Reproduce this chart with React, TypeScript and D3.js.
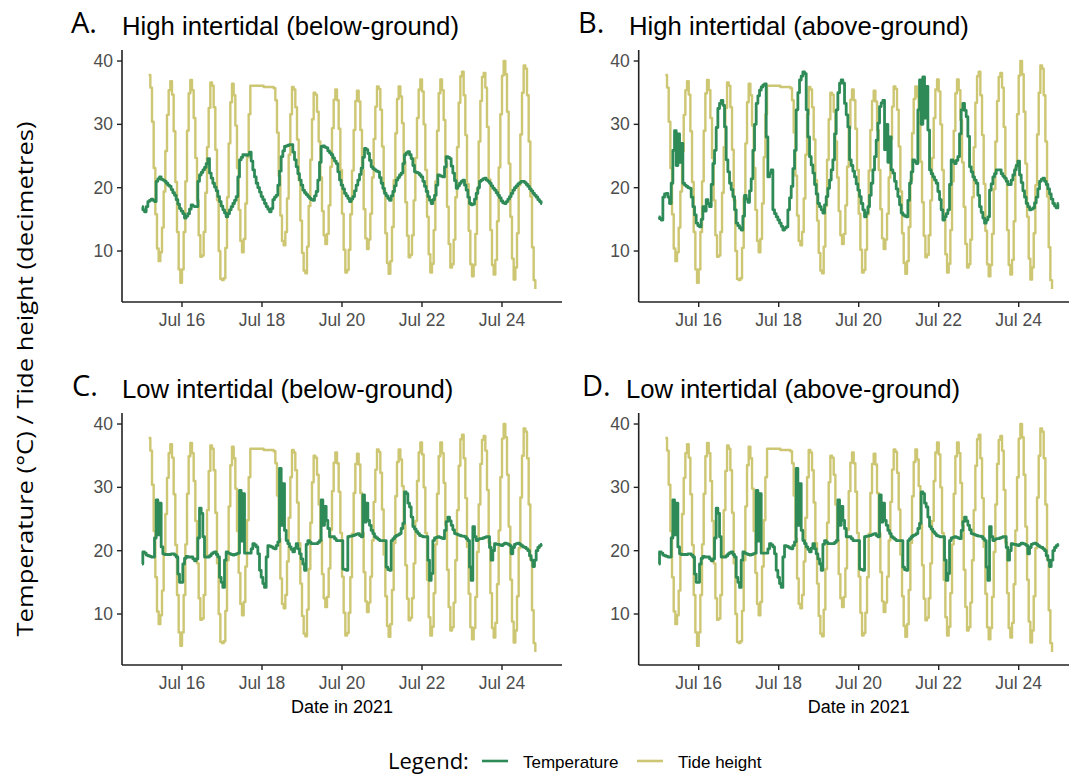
import React from "react";
import * as d3 from "d3";

const W = 1069;
const H = 776;
const FONT = "'Liberation Sans', Arial, Helvetica, sans-serif";
const FONT2 = "'Open Sans', 'Noto Sans', sans-serif";

const TEMP_COLOR = "#2E8B57";
const TIDE_COLOR = "#CDC673";

// hourly series starting Jul 15 2021 00:00
const seriesStart = new Date(2021, 6, 15, 0, 0, 0);
const tideStartHour = 4;

// Tide height (decimetres), hourly from Jul 15 04:00; null = no reading
const tideHeight: (number | null)[] = [
  37.8, 35.8, 30.4, 23.1, 15.8, 10.4, 8.4, 9.8, 13.7, 19.4, 25.8, 31.5, 35.4, 36.8,
  34.7, 28.9, 20.9, 13.0, 7.1, 5.0, 7.1, 13.0, 21.0, 29.0, 34.9, 37.0,
  35.4, 31.0, 24.7, 18.0, 12.5, 9.1, 9.3, 13.0, 19.2, 26.4, 32.6, 36.6,
  36.1, 32.7, 26.0, 18.0, 10.0, 5.6, 5.4, 5.7, 10.5, 18.5, 27.0, 33.5, 36.4,
  34.6, 29.8, 23.1, 16.5, 11.6, 9.8, 11.9, 17.5, 24.8, 31.6, 36.1,
  null, null, null, null, null, null, null, 35.9, null, null, null, null, null, 35.7,
  33.8, 28.7, 21.9, 15.6, 11.6, 10.9, 13.0, 18.3, 25.2, 31.6, 35.9,
  35.5, 32.7, 27.6, 21.2, 14.8, 9.7, 6.9, 6.5, 10.7, 17.1, 24.4, 30.8, 35.0,
  34.7, 32.0, 27.3, 21.6, 16.3, 12.5, 11.1, 12.7, 17.2, 23.3, 29.4, 33.9, 35.5,
  33.8, 29.3, 22.8, 15.9, 10.2, 6.6, 7.0, 10.2, 15.8, 22.7, 29.1, 33.7, 35.3,
  33.6, 29.1, 22.8, 16.6, 12.0, 10.3, 11.8, 15.9, 21.6, 27.7, 32.8, 36.0,
  35.6, 32.3, 26.5, 19.4, 12.8, 8.1, 6.4, 8.4, 13.8, 21.2, 28.6, 34.0, 36.0,
  34.4, 30.2, 24.1, 17.7, 12.4, 9.0, 9.4, 12.5, 18.0, 24.7, 31.0, 35.5, 37.1,
  35.2, 30.0, 22.8, 15.4, 9.5, 6.6, 8.0, 13.3, 21.0, 29.0, 34.9, 37.1,
  35.4, 30.7, 24.0, 17.0, 11.1, 7.4, 7.9, 11.8, 18.5, 26.4, 33.4, 37.6, 38.3,
  34.6, 28.3, 20.6, 13.2, 7.9, 6.0, 7.8, 12.7, 19.8, 27.3, 33.7, 37.5, 38.1,
  35.8, 29.6, 21.3, 13.3, 7.8, 6.3, 8.6, 14.7, 23.2, 31.6, 37.7, 40.0,
  37.9, 32.0, 23.8, 15.4, 8.8, 5.5, 7.4, 12.8, 20.4, 28.4, 35.0, 39.3,
  38.8, 34.6, 27.3, 18.6, 10.6, 5.4, 4.0,
];

// Temperature (°C), hourly from Jul 15 00:00 to Jul 25 00:00
const tempHighBelow: number[] = [
  17.0, 16.5, 16.2, 17.0, 17.8, 18.0, 18.2, 18.0, 17.8, 21.0, 21.4, 21.7,
  21.3, 21.2, 21.0, 20.7, 20.4, 20.2, 19.7, 19.2, 18.8, 18.1, 17.4, 16.7,
  16.3, 15.9, 15.2, 15.5, 15.9, 16.6, 17.3, 17.1, 17.0, 17.0, 21.0, 22.0,
  22.4, 22.8, 23.2, 23.8, 24.6, 22.3, 21.5, 20.7, 20.1, 19.5, 18.6, 17.8,
  17.1, 16.5, 16.0, 15.4, 15.9, 16.5, 17.0, 17.5, 18.0, 18.6, 21.7, 24.4,
  24.8, 25.2, 25.2, 25.1, 25.2, 25.6, 24.2, 22.8, 21.7, 20.7, 20.0, 19.3,
  18.6, 18.1, 17.5, 17.0, 16.6, 16.2, 16.7, 18.1, 18.5, 18.8, 20.4, 22.6,
  24.9, 25.8, 26.5, 26.6, 26.7, 26.8, 26.8, 25.6, 24.4, 23.3, 22.2, 21.2,
  20.4, 19.6, 19.2, 18.9, 18.6, 18.3, 18.1, 18.0, 18.7, 19.4, 21.2, 24.0,
  26.5, 26.6, 26.4, 26.3, 25.8, 25.5, 25.2, 24.7, 24.2, 23.8, 22.5, 21.2,
  20.4, 19.8, 19.1, 18.7, 18.3, 17.8, 18.2, 18.6, 19.5, 20.4, 21.2, 22.1,
  23.1, 24.8, 26.2, 26.0, 25.4, 24.3, 23.3, 23.0, 22.8, 22.6, 22.5, 21.6,
  20.7, 19.9, 19.1, 18.7, 18.3, 18.0, 18.7, 19.4, 20.3, 21.2, 21.6, 22.0,
  22.3, 23.8, 25.2, 25.5, 25.7, 25.2, 24.6, 23.5, 22.5, 22.4, 22.3, 22.0,
  21.7, 21.0, 20.2, 19.4, 18.6, 18.0, 17.5, 18.1, 18.8, 20.4, 22.0, 21.9,
  21.8, 21.7, 23.3, 24.9, 24.8, 24.6, 23.4, 22.3, 21.1, 19.9, 20.3, 20.7,
  21.0, 21.2, 20.4, 19.6, 18.5, 17.5, 17.3, 17.4, 18.2, 19.1, 20.0, 21.0,
  21.2, 21.4, 21.5, 21.2, 21.0, 20.7, 20.3, 19.9, 19.6, 19.2, 18.8, 18.4,
  17.9, 17.6, 17.5, 17.8, 18.2, 18.6, 19.1, 19.6, 20.0, 20.3, 20.6, 20.8,
  21.0, 21.0, 20.8, 20.5, 20.2, 19.8, 19.5, 19.1, 18.8, 18.5, 18.1, 17.8,
  17.5,
];

const tempHighAbove: number[] = [
  15.4, 15.1, 14.9, 18.5, 19.0, 19.1, 18.5, 17.5, 20.7, 25.9, 29.0, 23.5,
  28.5, 24.0, 27.0, 20.7, 20.4, 20.2, 20.0, 19.9, 18.5, 17.0, 15.7, 14.4,
  14.0, 13.8, 15.0, 17.0, 16.3, 18.1, 17.5, 17.0, 20.5, 23.8, 25.9, 29.5,
  32.5, 33.3, 33.8, 33.0, 29.6, 24.4, 22.5, 20.7, 19.7, 18.6, 16.5, 14.4,
  14.0, 13.6, 13.3, 15.5, 18.8, 18.2, 17.7, 19.5, 21.4, 25.9, 30.0, 33.3,
  34.5, 35.4, 35.9, 36.2, 36.4, 28.0, 21.7, 22.3, 22.8, 16.5, 15.9, 15.4,
  14.9, 14.4, 13.9, 13.3, 13.6, 13.8, 16.5, 18.4, 20.2, 23.0, 25.9, 32.3,
  35.0, 37.0, 37.6, 38.3, 38.0, 32.3, 28.0, 24.9, 23.6, 22.3, 20.5, 19.0,
  17.5, 17.0, 16.5, 16.0, 17.3, 18.6, 19.9, 21.2, 22.8, 24.4, 28.5, 32.3,
  35.0, 36.5, 37.0, 36.5, 33.3, 31.5, 29.6, 24.4, 23.5, 22.6, 21.7, 20.6,
  19.6, 18.6, 17.5, 16.5, 15.4, 16.0, 17.0, 18.8, 20.7, 22.8, 24.9, 27.5,
  30.2, 32.8, 33.4, 33.8, 26.0, 30.0, 24.0, 28.0, 22.8, 22.3, 21.0, 19.8,
  18.6, 17.3, 16.0, 15.7, 15.5, 15.4, 18.0, 20.7, 22.5, 24.4, 24.1, 23.8,
  32.3, 37.0, 30.0, 37.5, 31.0, 36.0, 29.1, 22.8, 22.2, 21.7, 21.2, 20.7,
  19.4, 18.1, 16.5, 14.9, 15.4, 15.9, 16.5, 20.5, 24.4, 24.1, 23.8, 24.3,
  24.9, 28.5, 32.3, 33.3, 32.2, 31.2, 28.1, 23.3, 22.5, 21.7, 21.2, 20.7,
  18.8, 17.0, 16.1, 15.2, 14.4, 14.9, 15.4, 19.6, 20.6, 21.7, 22.2, 22.8,
  22.8, 22.8, 22.2, 21.8, 21.5, 21.0, 20.5, 20.5, 21.2, 22.0, 22.8, 23.5,
  24.2, 22.0, 20.8, 19.5, 18.5, 17.5, 17.0, 16.5, 16.6, 16.8, 17.6, 18.5,
  19.8, 21.0, 21.3, 21.5, 21.0, 20.5, 19.8, 19.0, 18.2, 17.5, 17.1, 16.8,
  17.5,
];

const tempLowBelow: number[] = [
  17.9, 19.8, 19.6, 19.3, 19.2, 19.1, 19.0, 19.0, 22.0, 28.0, 22.5, 27.5,
  20.6, 19.5, 19.4, 19.4, 19.4, 19.4, 19.5, 19.5, 19.3, 19.0, 16.3, 15.0,
  15.0, 17.9, 18.8, 19.1, 19.0, 19.0, 19.0, 18.7, 18.4, 18.7, 22.0, 26.7,
  25.9, 22.2, 19.0, 19.0, 19.0, 19.2, 19.5, 19.7, 19.8, 19.4, 19.0, 15.8,
  15.0, 14.2, 18.5, 19.8, 19.6, 19.5, 19.4, 19.3, 19.4, 19.5, 19.6, 29.5,
  21.5, 29.0, 19.6, 19.6, 19.6, 19.6, 20.3, 21.1, 20.9, 20.6, 19.5, 16.9,
  15.8, 14.8, 14.2, 19.0, 20.8, 20.7, 20.6, 20.4, 20.3, 20.8, 21.4, 33.0,
  24.0, 30.6, 23.2, 21.6, 21.1, 20.6, 20.2, 19.8, 20.4, 21.1, 20.3, 19.5,
  18.7, 17.9, 16.9, 21.0, 21.6, 21.3, 21.1, 21.1, 21.1, 21.1, 21.3, 21.6,
  28.0, 24.0, 27.0, 24.8, 23.5, 22.2, 22.2, 22.2, 21.9, 21.6, 21.6, 21.6,
  21.6, 17.1, 17.0, 16.9, 22.2, 22.3, 22.3, 22.4, 22.5, 22.6, 22.7, 22.4,
  22.2, 28.8, 24.5, 27.5, 24.8, 24.0, 23.2, 22.7, 22.2, 22.0, 21.8, 21.6,
  21.6, 21.6, 21.6, 17.4, 17.0, 16.9, 21.6, 21.9, 22.2, 22.4, 22.5, 22.7,
  23.5, 24.3, 29.3, 29.0, 27.5, 26.9, 25.3, 23.8, 23.4, 23.0, 22.7, 22.4,
  22.3, 22.2, 22.2, 22.2, 18.5, 15.3, 16.4, 21.6, 22.0, 22.1, 22.2, 22.1,
  22.0, 21.9, 23.2, 24.6, 25.3, 24.7, 24.0, 23.3, 22.7, 22.6, 22.5, 22.4,
  22.3, 22.3, 22.2, 21.9, 21.6, 17.4, 15.3, 23.8, 22.2, 21.6, 21.8, 21.9,
  21.9, 22.0, 22.1, 22.2, 22.2, 20.5, 18.5, 20.0, 21.1, 21.0, 21.0, 20.9,
  20.8, 21.0, 21.2, 21.1, 21.0, 20.8, 19.5, 20.5, 21.0, 21.1, 21.2, 21.0,
  20.8, 20.6, 20.5, 20.3, 20.0, 19.2, 18.5, 17.5, 18.5, 20.0, 20.5, 20.8,
  21.0,
];

// the low-intertidal above-ground logger reads the same as the below-ground one
const tempLowAbove: number[] = tempLowBelow.slice();

const panelLetters = ["A.", "B.", "C.", "D."];
const panelTitles = [
  "High intertidal (below-ground)",
  "High intertidal (above-ground)",
  "Low intertidal (below-ground)",
  "Low intertidal (above-ground)",
];
const xTickDates = [16, 18, 20, 22, 24].map((d) => new Date(2021, 6, d));
const yTicks = [10, 20, 30, 40];
const legendLabels = ["Temperature", "Tide height"];

const xDomain = [new Date(2021, 6, 14, 12), new Date(2021, 6, 25, 12)];
const yDomain = [1.95, 41.74];
const PW = 440;
const PH = 252;

const hourDate = (h: number) => d3.timeHour.offset(seriesStart, h);
const fmt = d3.timeFormat("%b %d");

type PanelProps = {
  idx: number;
  left: number;
  top: number;
  temps: number[];
  letterX: number;
  titleX: number;
  showXTitle: boolean;
};

function Panel({ idx, left, top, temps, letterX, titleX, showXTitle }: PanelProps) {
  const x = d3.scaleTime().domain(xDomain).range([left, left + PW]);
  const y = d3.scaleLinear().domain(yDomain).range([top + PH, top]);

  const tidePts = tideHeight
    .map((v, i) => ({ d: hourDate(tideStartHour + i), v }))
    .filter((p) => p.v != null) as { d: Date; v: number }[];
  const tidePath = d3
    .line<{ d: Date; v: number }>()
    .x((p) => x(p.d))
    .y((p) => y(p.v))
    .curve(d3.curveStepAfter)(tidePts);

  const tempPts = temps.map((v, i) => ({ d: hourDate(i), v }));
  const tempPath = d3
    .line<{ d: Date; v: number }>()
    .x((p) => x(p.d))
    .y((p) => y(p.v))
    .curve(d3.curveStep)(tempPts);

  const bottom = top + PH;
  const axisColor = "#222";
  const titleBase = top - 15;

  return (
    <g>
      <text x={letterX} y={titleBase - 2} fontFamily={FONT2} fontSize={29} fill="#000">
        {panelLetters[idx]}
      </text>
      <text x={titleX} y={titleBase} fontFamily={FONT} fontSize={25.7} fill="#000">
        {panelTitles[idx]}
      </text>

      <path d={tidePath || ""} fill="none" stroke={TIDE_COLOR} strokeWidth={2.4} strokeLinejoin="round" />
      <path d={tempPath || ""} fill="none" stroke={TEMP_COLOR} strokeWidth={2.8} strokeLinejoin="round" />

      <line x1={left} x2={left} y1={top} y2={bottom} stroke={axisColor} strokeWidth={1.6} />
      <line x1={left} x2={left + PW} y1={bottom} y2={bottom} stroke={axisColor} strokeWidth={1.6} />

      {yTicks.map((t) => (
        <g key={"y" + t}>
          <line x1={left - 5} x2={left} y1={y(t)} y2={y(t)} stroke={axisColor} strokeWidth={1.4} />
          <text
            x={left - 9}
            y={y(t)}
            dy="0.35em"
            textAnchor="end"
            fontFamily={FONT}
            fontSize={17.5}
            fill="#4D4D4D"
          >
            {t}
          </text>
        </g>
      ))}
      {xTickDates.map((d) => (
        <g key={"x" + d.getTime()}>
          <line x1={x(d)} x2={x(d)} y1={bottom} y2={bottom + 5} stroke={axisColor} strokeWidth={1.4} />
          <text
            x={x(d)}
            y={bottom + 24}
            textAnchor="middle"
            fontFamily={FONT}
            fontSize={17.5}
            fill="#4D4D4D"
          >
            {fmt(d)}
          </text>
        </g>
      ))}
      {showXTitle && (
        <text
          x={left + PW / 2}
          y={bottom + 48}
          textAnchor="middle"
          fontFamily={FONT}
          fontSize={18}
          fill="#000"
        >
          Date in 2021
        </text>
      )}
    </g>
  );
}

export default function App() {
  const panels = [
    { idx: 0, left: 122, top: 50, temps: tempHighBelow, letterX: 71, titleX: 122, showXTitle: false },
    { idx: 1, left: 638.7, top: 50, temps: tempHighAbove, letterX: 578, titleX: 629, showXTitle: false },
    { idx: 2, left: 122, top: 413, temps: tempLowBelow, letterX: 72, titleX: 122, showXTitle: true },
    { idx: 3, left: 638.7, top: 413, temps: tempLowAbove, letterX: 582, titleX: 626, showXTitle: true },
  ];
  const legendY = 761;
  return (
    <svg
      width={W}
      height={H}
      viewBox={`0 0 ${W} ${H}`}
      style={{ position: "absolute", left: 0, top: 0, background: "#fff" }}
    >
      <rect x={0} y={0} width={W} height={H} fill="#fff" />
      {panels.map((p) => (
        <Panel key={p.idx} {...p} />
      ))}
      <text
        transform={`translate(33, 379) rotate(-90)`}
        textAnchor="middle"
        fontFamily={FONT2}
        fontSize={22}
        textLength={515}
        lengthAdjust="spacingAndGlyphs"
        fill="#000"
      >
        Temperature (°C) / Tide height (decimetres)
      </text>

      <text x={388} y={legendY + 8} fontFamily={FONT2} fontSize={22} fill="#000">
        Legend:
      </text>
      <line x1={482} x2={508} y1={legendY} y2={legendY} stroke={TEMP_COLOR} strokeWidth={2.6} />
      <text x={523} y={legendY + 7} fontFamily={FONT} fontSize={17} fill="#000">
        {legendLabels[0]}
      </text>
      <line x1={637} x2={663} y1={legendY} y2={legendY} stroke={TIDE_COLOR} strokeWidth={2.6} />
      <text x={678} y={legendY + 7} fontFamily={FONT} fontSize={17} fill="#000">
        {legendLabels[1]}
      </text>
    </svg>
  );
}
